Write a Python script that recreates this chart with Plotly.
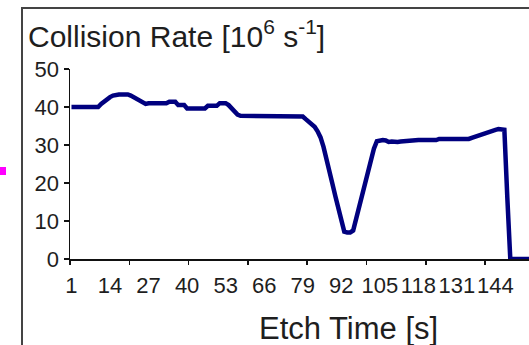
import plotly.graph_objects as go

# ---- data ----
categories = list(range(1, 161))
collision_rate = (
    [40.0] * 10 +
    [40.8, 41.5, 42.2, 42.6, 43.0, 43.3, 43.3, 43.3, 43.3, 43.3,
     43.0, 42.6, 42.1, 41.6, 41.1, 40.8] +
    [41.0] * 7 +
    [41.4] * 3 +
    [40.5] * 3 +
    [39.6] * 7 +
    [40.3] * 4 +
    [41.0] * 3 +
    [40.5, 39.7, 38.9, 38.0] +
    [37.7] * 21 +
    [37.5, 36.8, 36.2, 35.6, 34.8, 33.6, 32.0, 29.5, 26.5, 23.8,
     19.8, 16.5, 13.0, 9.5, 7.2, 7.0, 7.0, 7.5, 10.5, 14.5,
     17.5, 20.5, 23.5, 26.5, 29.0, 31.0, 31.3, 31.3, 31.2] +
    [30.8, 30.9, 30.8, 30.8, 30.9, 31.0, 30.9, 31.0, 31.1] +
    [31.3] * 8 +
    [31.6] * 11 +
    [31.9, 32.2, 32.5, 32.8, 33.1, 33.3, 33.6, 33.8, 34.0, 34.2,
     34.1, 34.0, 16.0] +
    [0.0] * 12
)
label_vals = [1, 14, 27, 40, 53, 66, 79, 92, 105, 118, 131, 144]
label_text = [str(v) for v in label_vals]
tick_mark_vals = [0.5, 20.5, 40.5, 60.5, 80.5, 100.5, 120.5, 140.5, 160.5]
y_ticks = [0, 10, 20, 30, 40, 50]

FONT = "Arial, Liberation Sans, sans-serif"
TXT = "#1e1e1e"

W, H = 529, 345
L, R, T, B = 70, 0, 69, 86
PW, PH = W - L - R, H - T - B

def px(x):
    return (x - L) / PW

def py(y):
    return (H - B - y) / PH

xr = [0.5, 0.5 + PW / 2.965]

fig = go.Figure()
fig.add_trace(go.Scatter(
    x=categories, y=collision_rate, mode="lines",
    line=dict(color="#00007f", width=4.5), showlegend=False,
    hoverinfo="skip"))
# invisible trace to activate secondary axis for tick marks
fig.add_trace(go.Scatter(x=[1], y=[0], xaxis="x2", mode="markers",
                         marker=dict(opacity=0), showlegend=False,
                         hoverinfo="skip"))

fig.update_layout(
    width=W, height=H,
    margin=dict(l=L, r=R, t=T, b=B, pad=0, autoexpand=False),
    paper_bgcolor="white", plot_bgcolor="white",
    font=dict(family=FONT, color=TXT, size=22),
    xaxis=dict(range=xr, tickmode="array", tickvals=label_vals,
               ticktext=label_text, ticks="outside", ticklen=6,
               tickangle=0, automargin=False,
               tickcolor="rgba(0,0,0,0)", showgrid=False, zeroline=False,
               showline=True, linecolor="#111", linewidth=1.5,
               tickfont=dict(size=22, family=FONT, color=TXT)),
    xaxis2=dict(range=xr, overlaying="x", side="bottom", anchor="y",
                tickmode="array", tickvals=tick_mark_vals,
                showticklabels=False, ticks="outside", ticklen=5,
                tickwidth=1.5, tickcolor="#111", showgrid=False,
                zeroline=False, showline=False, automargin=False),
    yaxis=dict(range=[0, 50], tickmode="array", tickvals=y_ticks,
               ticks="outside", ticklen=5, tickwidth=1.5, tickcolor="#111",
               showgrid=False, zeroline=False, showline=True,
               automargin=False,
               linecolor="#111", linewidth=1.5,
               tickfont=dict(size=22, family=FONT, color=TXT)),
)

# chart-area frame (cropped on right/bottom)
fig.add_shape(type="rect", xref="paper", yref="paper",
              x0=px(22), x1=px(560), y0=py(380), y1=py(8),
              line=dict(color="#444", width=2), fillcolor="rgba(0,0,0,0)",
              layer="above")
# magenta fragment at the left edge
fig.add_shape(type="rect", xref="paper", yref="paper",
              x0=px(0), x1=px(6), y0=py(175), y1=py(167),
              line=dict(width=0), fillcolor="#ff00ff")

fig.add_annotation(text="Collision Rate [10<sup>6</sup> s<sup>-1</sup>]",
                   xref="paper", yref="paper", x=px(26), y=py(34),
                   xanchor="left", yanchor="middle", showarrow=False,
                   font=dict(size=30, family=FONT, color=TXT))
fig.add_annotation(text="Etch Time [s]",
                   xref="paper", yref="paper", x=px(348), y=py(328),
                   xanchor="center", yanchor="middle", showarrow=False,
                   font=dict(size=31, family=FONT, color=TXT))

fig.write_html("out.html",
               config={"displayModeBar": False, "staticPlot": True},
               post_script="document.body.style.margin='0px';"
                           "document.body.style.overflow='hidden';")
